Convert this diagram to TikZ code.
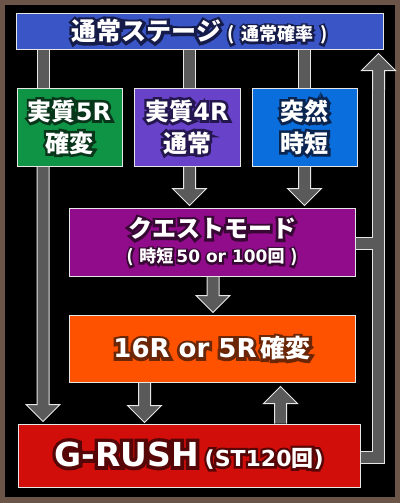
\documentclass[tikz,border=0pt]{standalone}
\usepackage{fontspec}
\setmainfont{DejaVu Sans}
\newif\ifol
\newfontfamily\jpN{Noto Sans CJK JP}
\newfontfamily\jpO{Noto Sans CJK JP}[FakeBold=22]
\newfontfamily\laN{DejaVu Sans}
\newfontfamily\laO{DejaVu Sans}[FakeBold=22]
\usetikzlibrary{calc}
\pgfdeclarelayer{bg}
\pgfsetlayers{bg,main}
\definecolor{framec}{HTML}{6B5548}
\definecolor{edgec}{HTML}{E6E6E6}
\definecolor{shaftc}{HTML}{5A5A5A}
\definecolor{topc}{HTML}{3A55C6}
\definecolor{grnc}{HTML}{0E9444}
\definecolor{purc}{HTML}{6842C8}
\definecolor{bluc}{HTML}{0A6EDC}
\definecolor{quec}{HTML}{900C8A}
\definecolor{orgc}{HTML}{FF5200}
\definecolor{redc}{HTML}{D20E0A}
\definecolor{topdk}{HTML}{161C4A}
\definecolor{grndk}{HTML}{08361A}
\definecolor{purdk}{HTML}{24164E}
\definecolor{bludk}{HTML}{0A2550}
\definecolor{quedk}{HTML}{380834}
\definecolor{orgdk}{HTML}{6A2606}
\definecolor{reddk}{HTML}{560606}
\newcommand\J[1]{{\ifol\jpO\else\jpN\fi\bfseries #1}}
\newcommand\La{\ifol\laO\else\laN\fi\bfseries}
\newcommand\ol[2]{\leavevmode\rlap{\oltrue\color{#1}\La #2}{\La #2}}
\newcommand\fs[1]{\fontsize{#1}{#1}\selectfont}
\newcommand\blockarrow[2]{%
  \coordinate (ba-A) at (#1);
  \coordinate (ba-B) at (#2);
  \coordinate (ba-H) at ($(ba-B)!17pt!(ba-A)$);
  \fill[shaftc] ($(ba-A)!6pt!90:(ba-B)$) -- ($(ba-H)!6pt!90:(ba-B)$) -- ($(ba-H)!17pt!90:(ba-B)$) -- (ba-B)
     -- ($(ba-H)!17pt!-90:(ba-B)$) -- ($(ba-H)!6pt!-90:(ba-B)$) -- ($(ba-A)!6pt!-90:(ba-B)$) -- cycle;
  \draw[edgec,line width=1pt,line join=miter] ($(ba-A)!6pt!90:(ba-B)$) -- ($(ba-H)!6pt!90:(ba-B)$) -- ($(ba-H)!17pt!90:(ba-B)$) -- (ba-B)
     -- ($(ba-H)!17pt!-90:(ba-B)$) -- ($(ba-H)!6pt!-90:(ba-B)$) -- ($(ba-A)!6pt!-90:(ba-B)$);
}
\begin{document}
\begin{tikzpicture}[x=1pt,y=-1pt,
  box/.style={draw=edgec,line width=1pt,inner sep=0pt,align=center,text=white,font=\bfseries\fs{20}},
  shaftout/.style={draw=edgec,line width=13pt,line join=miter},
  shaftin/.style={draw=shaftc,line width=11pt,line join=miter}]
\useasboundingbox (0,0) rectangle (400,503);
\begin{pgfonlayer}{bg}
\fill[framec] (0,0) rectangle (400,503);
\fill[black] (5,5) rectangle (395,497);
\end{pgfonlayer}

\node[box,fill=topc,minimum width=367pt,minimum height=36pt] (top) at (199.5,32)
  {\ol{topdk}{\fs{25}\J{通常ステージ}\hspace{6pt}\fs{18}\J{(\hspace{7pt}通常確率\hspace{7pt})}}};
\node[box,fill=grnc,minimum width=105pt,minimum height=78pt] (g5) at (69.5,127)
  {\ol{grndk}{\fs{24}\J{実質}5R}\\[8pt]\ol{grndk}{\fs{24}\J{確変}}};
\node[box,fill=purc,minimum width=106pt,minimum height=78pt] (g4) at (187,127)
  {\ol{purdk}{\fs{24}\J{実質}4R}\\[8pt]\ol{purdk}{\fs{24}\J{通常}}};
\node[box,fill=bluc,minimum width=105pt,minimum height=78pt] (jit) at (304.5,127)
  {\ol{bludk}{\fs{24}\J{突然}}\\[8pt]\ol{bludk}{\fs{24}\J{時短}}};
\node[box,fill=quec,minimum width=286pt,minimum height=68pt] (quest) at (212,242)
  {\ol{quedk}{\fs{24}\J{クエストモード}}\\[5pt]\ol{quedk}{\fs{17}\J{(\hspace{6pt}時短}\hspace{3pt}50 or 100\J{回\hspace{6pt})}}};
\node[box,fill=orgc,minimum width=286pt,minimum height=67pt] (r16) at (212,348.5)
  {\ol{orgdk}{\fs{26}16R or 5R\hspace{4pt}\J{\fs{25}確変}}};
\node[box,fill=redc,minimum width=342pt,minimum height=63pt] (grush) at (189,455.5)
  {\ol{reddk}{\fs{33}G-RUSH\hspace{6pt}\fs{22}(ST120\J{回})}};

\coordinate (xA) at (43,0);
\coordinate (xB) at (189.5,0);
\coordinate (xC) at (304.5,0);
\coordinate (xD) at (213,0);
\coordinate (xE) at (144.5,0);
\coordinate (xF) at (280.5,0);
\coordinate (xR) at (378.5,0);
\coordinate (yQ) at (0,243.5);
\coordinate (yG) at (0,457.5);

\begin{pgfonlayer}{bg}
\foreach \xx/\bb in {xA/g5,xB/g4,xC/jit}{
  \draw[shaftout] (top.south -| \xx) -- (\bb.north -| \xx);
  \draw[shaftin] (top.south -| \xx) -- (\bb.north -| \xx);
}
\blockarrow{g5.south -| xA}{$(grush.north -| xA)+(0,-2)$}
\blockarrow{g4.south -| xB}{$(quest.north -| xB)+(0,-2)$}
\blockarrow{jit.south -| xC}{$(quest.north -| xC)+(0,-2)$}
\blockarrow{quest.south -| xD}{$(r16.north -| xD)+(0,-2)$}
\blockarrow{r16.south -| xE}{$(grush.north -| xE)+(0,-1)$}
\blockarrow{grush.north -| xF}{$(r16.south -| xF)+(0,4)$}
\draw[shaftout] (grush.east |- yG) -- (xR |- yG) -- ($(top.south -| xR)+(0,30)$);
\draw[shaftout] (quest.east |- yQ) -- (xR |- yQ);
\draw[shaftin] (grush.east |- yG) -- (xR |- yG) -- ($(top.south -| xR)+(0,30)$);
\draw[shaftin] (quest.east |- yQ) -- (xR |- yQ);
\blockarrow{$(top.south -| xR)+(0,40)$}{$(top.south -| xR)+(0,3)$}
\end{pgfonlayer}
\end{tikzpicture}
\end{document}
